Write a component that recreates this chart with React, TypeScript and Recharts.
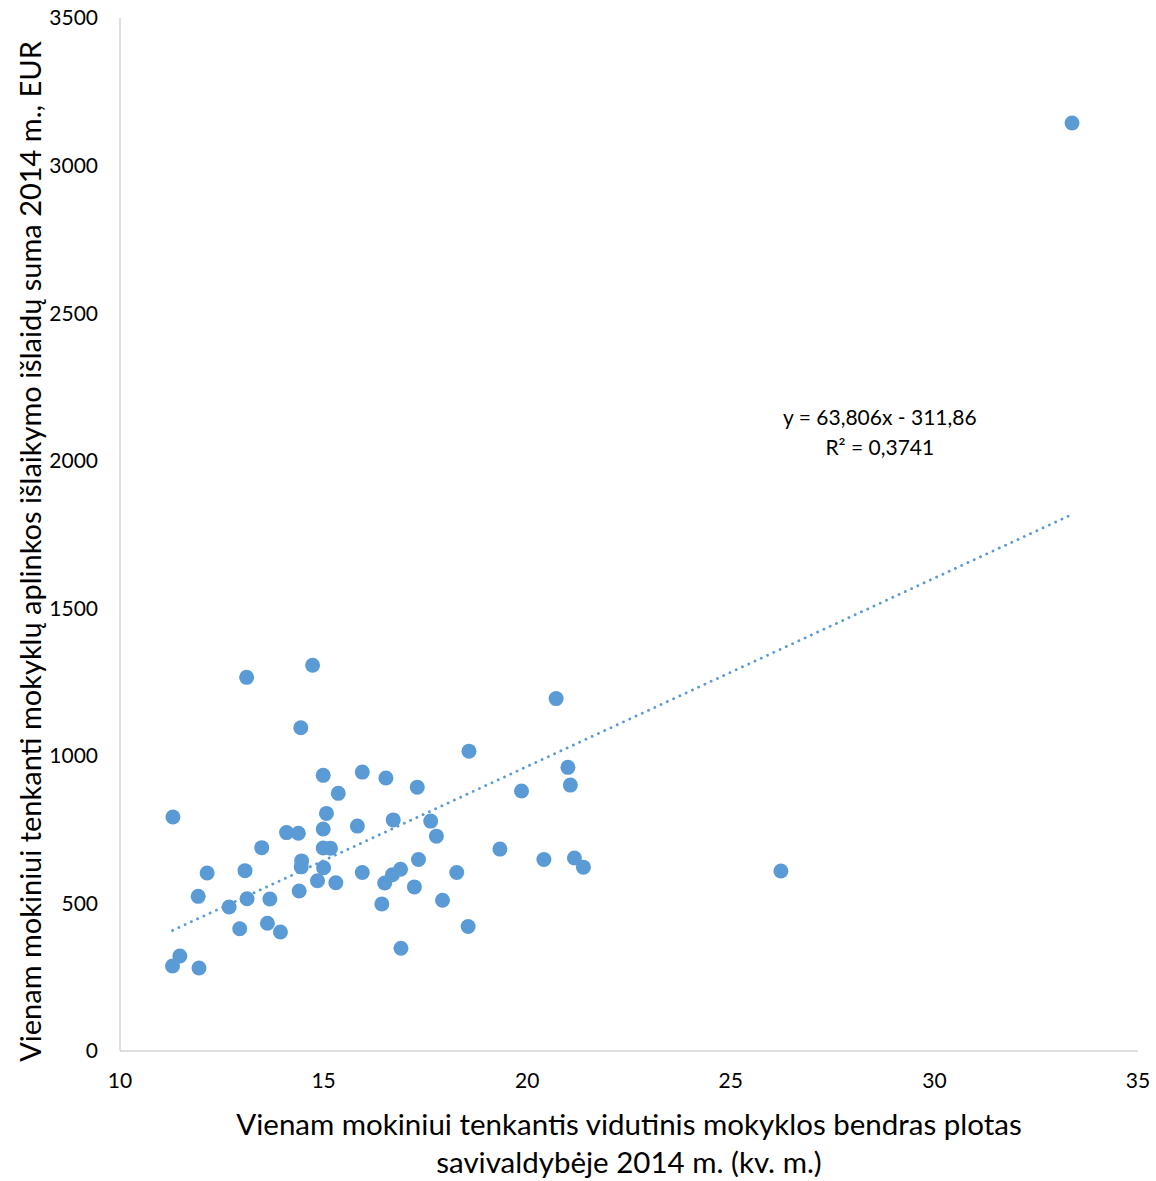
import { ScatterChart, Scatter, XAxis, YAxis, ReferenceDot, Label } from "recharts";

const areaPerPupil = [
  11.30, 11.29, 11.47, 11.94, 11.92, 12.14, 12.68, 12.94, 13.11, 13.07,
  13.12, 13.48, 13.62, 13.68, 13.94, 14.09, 14.38, 14.44, 14.73, 14.46,
  14.45, 14.40, 14.85, 14.99, 15.07, 14.99, 14.99, 15.17, 15.00, 15.30,
  15.36, 15.95, 15.83, 15.95, 16.53, 16.71, 16.50, 16.43, 16.69, 16.89,
  17.30, 17.33, 17.23, 16.90, 17.63, 17.77, 17.92, 18.27, 18.57, 18.55,
  19.33, 19.86, 20.41, 20.71, 21.00, 21.06, 21.16, 21.38, 26.23, 33.38,
];

const costPerPupil = [
  793, 288, 322, 281, 524, 603, 488, 414, 1266, 611,
  516, 689, 433, 515, 403, 740, 738, 1095, 1307, 644,
  624, 542, 577, 934, 805, 752, 688, 687, 621, 570,
  873, 945, 762, 605, 925, 783, 569, 498, 597, 616,
  894, 649, 556, 348, 779, 728, 511, 605, 1016, 422,
  684, 881, 649, 1194, 961, 901, 654, 623, 610, 3144,
];

const xTicks = [10, 15, 20, 25, 30, 35];
const yTicks = [0, 500, 1000, 1500, 2000, 2500, 3000, 3500];

const slope = 63.806;
const intercept = -311.86;
const trendX = [11.29, 33.38];

const points = areaPerPupil.map((x, i) => ({ x, y: costPerPupil[i] }));
const trend = trendX.map((x) => ({ x, y: slope * x + intercept }));

const blue = "#5B9BD5";
const font = "Lato, 'Open Sans', sans-serif";

const Dot = (props) => <circle cx={props.cx} cy={props.cy} r={7.5} fill={blue} />;

const XTitle = ({ viewBox }) => {
  const cx = viewBox.x + viewBox.width / 2;
  return (
    <text x={cx} y={viewBox.y + 84} textAnchor="middle" fontSize={29.5} fill="#000" fontFamily={font}>
      <tspan x={cx}>Vienam mokiniui tenkantis vidutinis mokyklos bendras plotas</tspan>
      <tspan x={cx} dy={38}>savivaldybėje 2014 m. (kv. m.)</tspan>
    </text>
  );
};

const YTitle = ({ viewBox }) => {
  const cy = viewBox.y + viewBox.height / 2 + 17;
  return (
    <text
      x={29}
      y={cy}
      transform={`rotate(-90, 29, ${cy})`}
      textAnchor="middle"
      dominantBaseline="central"
      fontSize={29}
      fill="#000"
      fontFamily={font}
    >
      Vienam mokiniui tenkanti mokyklų aplinkos išlaikymo išlaidų suma 2014 m., EUR
    </text>
  );
};

const Equation = ({ viewBox }) => (
  <text x={viewBox.cx ?? viewBox.x} y={viewBox.cy ?? viewBox.y} textAnchor="middle" fontSize={21} fill="#000" fontFamily={font}>
    <tspan x={viewBox.cx ?? viewBox.x} dy={0}>y = 63,806x - 311,86</tspan>
    <tspan x={viewBox.cx ?? viewBox.x} dy={30}>R² = 0,3741</tspan>
  </text>
);

export default function App() {
  return (
    <div style={{ position: "absolute", left: 0, top: 0, fontFamily: font }}>
      <ScatterChart width={1156} height={1181} margin={{ top: 18, right: 18, bottom: 90, left: 0 }}>
        <XAxis
          type="number"
          dataKey="x"
          domain={[10, 35]}
          ticks={xTicks}
          height={40}
          tickLine={false}
          tickSize={6}
          tickMargin={16}
          axisLine={{ stroke: "#BFBFBF" }}
          tick={{ fill: "#000", fontSize: 21, fontFamily: font }}
        >
          <Label content={XTitle} />
        </XAxis>
        <YAxis
          type="number"
          dataKey="y"
          domain={[0, 3500]}
          ticks={yTicks}
          width={120}
          tickLine={false}
          tickSize={6}
          tickMargin={16}
          axisLine={{ stroke: "#BFBFBF" }}
          tick={{ fill: "#000", fontSize: 21, fontFamily: font }}
        >
          <Label content={YTitle} />
        </YAxis>
        <Scatter
          data={trend}
          isAnimationActive={false}
          line={{ stroke: blue, strokeWidth: 2.8, strokeDasharray: "0.1 6.8", strokeLinecap: "round" }}
          shape={() => <g />}
          legendType="none"
        />
        <Scatter data={points} isAnimationActive={false} shape={Dot} />
        <ReferenceDot x={28.66} y={2120} r={0} fill="none" stroke="none">
          <Label content={Equation} />
        </ReferenceDot>
      </ScatterChart>
    </div>
  );
}
